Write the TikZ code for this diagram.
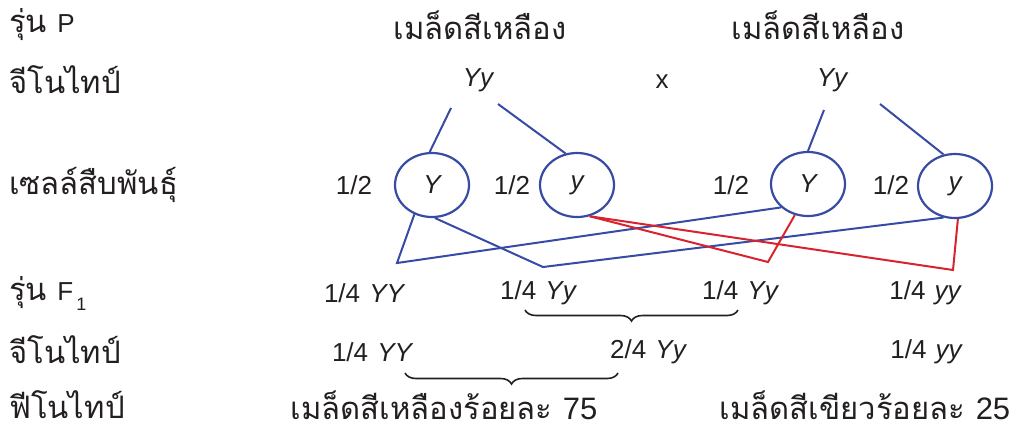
\documentclass[tikz,border=0pt]{standalone}
\usepackage{fontspec}
\setmainfont{Liberation Sans}
\newfontfamily\thai[Script=Thai]{Loma}
\usetikzlibrary{shapes.geometric,decorations.pathreplacing}
\definecolor{lineblue}{RGB}{55,75,165}
\definecolor{linered}{RGB}{215,35,45}
\definecolor{txt}{RGB}{35,31,32}
\tikzset{
  lbl/.style={anchor=west,inner sep=0,text=txt,font=\fontsize{31}{36}\selectfont\thai},
  txtc/.style={inner sep=0,text=txt,font=\fontsize{26}{30}\selectfont},
  thc/.style={inner sep=0,text=txt,font=\fontsize{31}{36}\selectfont\thai},
  gam/.style={ellipse,draw=lineblue,line width=2.2pt,minimum width=74pt,minimum height=64pt,inner sep=0,text=txt,font=\fontsize{26}{30}\selectfont\itshape},
  bl/.style={draw=lineblue,line width=2pt},
  rd/.style={draw=linered,line width=2pt},
  brc/.style={draw=txt,line width=1.6pt,decorate,decoration={brace,amplitude=11pt}}
}
\begin{document}
\begin{tikzpicture}[x=1pt,y=-1pt]
\useasboundingbox (0,0) rectangle (1019,432);
% row labels
\node[lbl] (r1) at (9,25) {รุ่น \fontspec{Liberation Sans}\fontsize{26}{30}\selectfont P};
\node[lbl] (r2) at (9,80) {จีโนไทป์};
\node[lbl] (r3) at (9,185) {เซลล์สืบพันธุ์};
\node[lbl] (r4) at (9,293) {รุ่น \fontspec{Liberation Sans}\fontsize{26}{30}\selectfont F\raisebox{-10pt}{\fontsize{18}{18}\selectfont\,1}};
\node[lbl] (r5) at (9,350) {จีโนไทป์};
\node[lbl] (r6) at (9,405) {ฟีโนไทป์};
% parents
\node[thc] (p1) at (480,25) {เมล็ดสีเหลือง};
\node[thc] (p2) at (818,25) {เมล็ดสีเหลือง};
\node[txtc] (g1) at (478,80) {\itshape Yy};
\node[txtc] (xx) at (662,82) {x};
\node[txtc] (g2) at (832,80) {\itshape Yy};
% gametes
\node[gam] (c1) at (432,185) {Y};
\node[gam] (c2) at (577,185) {y};
\node[gam] (c3) at (808,184) {Y};
\node[gam] (c4) at (955,186) {y};
\node[txtc] (h1) at (354,185) {1/2};
\node[txtc] (h2) at (512,185) {1/2};
\node[txtc] (h3) at (731,185) {1/2};
\node[txtc] (h4) at (891,185) {1/2};
% start points
\coordinate (s1) at (451,108);
\coordinate (s2) at (498,104);
\coordinate (s3) at (824,110);
\coordinate (s4) at (880,104);
\draw[bl] (s1) -- (c1.94);
\draw[bl] (s2) -- (c2.110);
\draw[bl] (s3) -- (c3.90);
\draw[bl] (s4) -- (c4.110);
% bends
\coordinate (b1) at (397,263);
\coordinate (b2) at (543,267);
\coordinate (b3) at (768,262);
\coordinate (b4) at (953,270);
\draw[bl,line join=miter] (c1.239) -- (b1) -- (c3.221);
\draw[bl,line join=miter] (c1.275) -- (b2) -- (c4.250);
\draw[rd,line join=miter] (c2.292) -- (b3) -- (c3.247);
\draw[rd,line join=miter] (c2.292) -- (b4) -- (c4.275);
% F1
\node[txtc] (f1) at (364,293) {1/4\hspace{0.35em}\itshape YY};
\node[txtc] (f2) at (538,293) {1/4\hspace{0.35em}\itshape Yy};
\node[txtc] (f3) at (740,293) {1/4\hspace{0.35em}\itshape Yy};
\node[txtc] (f4) at (925,293) {1/4\hspace{0.35em}\itshape yy};
% braces
\coordinate (k1) at (525,310);
\coordinate (k2) at (738,310);
\draw[brc,decoration={mirror}] (k1) -- (k2);
% genotype
\node[txtc] (n1) at (372,352) {1/4\hspace{0.35em}\itshape YY};
\node[txtc] (n2) at (648,352) {2/4\hspace{0.35em}\itshape Yy};
\node[txtc] (n3) at (926,352) {1/4\hspace{0.35em}\itshape yy};
\coordinate (k3) at (405,373);
\coordinate (k4) at (618,373);
\draw[brc,decoration={mirror}] (k3) -- (k4);
% phenotype
\node[thc] (q1) at (444,405) {เมล็ดสีเหลืองร้อยละ \fontspec{Liberation Sans}75};
\node[thc] (q2) at (865,405) {เมล็ดสีเขียวร้อยละ \fontspec{Liberation Sans}25};
\end{tikzpicture}
\end{document}
